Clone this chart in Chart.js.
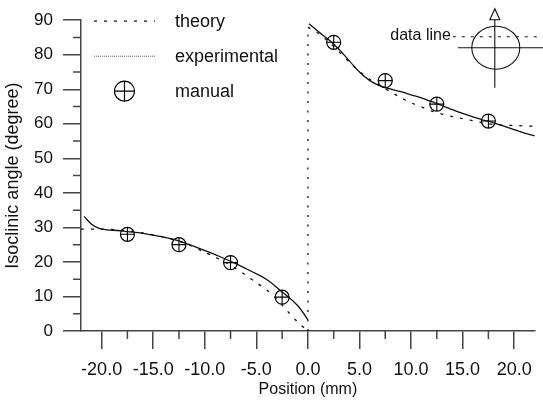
<!DOCTYPE html>
<html><head><meta charset="utf-8">
<script src="https://cdn.jsdelivr.net/npm/chart.js@4.4.1/dist/chart.umd.min.js"></script>
<style>html,body{margin:0;padding:0;background:#fff;overflow:hidden}#wrap{width:543px;height:404px}</style>
</head><body><div id="wrap"><canvas id="c"></canvas></div>
<script>
// ---- data ----
const legendLabels = ['theory', 'experimental', 'manual'];
const xTitle = 'Position (mm)';
const yTitle = 'Isoclinic angle (degree)';

const theoryLeftX = [-22, -20, -18, -16, -14, -12, -10, -9, -8, -7, -6, -5, -4, -3, -2, -1, 0];
const theoryLeftY = [29.5, 29.5, 29.2, 28.4, 27.2, 25.5, 22.8, 21.4, 19.9, 18.1, 16.1, 14.0, 11.9, 9.2, 5.8, 2.6, 0];
const theoryJumpX = [0, 0];
const theoryJumpY = [0, 88];
const theoryRightX = [0, 1, 2, 3, 4, 5, 6, 7, 8, 9, 10, 11, 12, 13, 14, 15, 16, 17, 18, 19, 20, 21, 22];
const theoryRightY = [88, 86.2, 83.8, 80.9, 77.9, 75.2, 72.9, 71.0, 69.3, 67.6, 66.1, 64.9, 63.7, 62.8, 62.1, 61.5, 60.9, 60.3, 59.8, 59.6, 59.5, 59.4, 59.3];

const expLeftX = [-21.7, -21, -20.3, -19.5, -18.5, -17.5, -16, -14.5, -13, -11.5, -10, -8.5, -7, -5.5, -4, -2.5, -1, 0];
const expLeftY = [33.2, 31.0, 29.8, 29.3, 29.1, 28.8, 28.3, 27.5, 26.5, 25.0, 23.3, 21.5, 19.5, 17.3, 14.9, 11.3, 7.4, 3.2];
const expRightX = [0.1, 1, 2, 3, 4, 5, 6, 7, 8, 9, 10, 11, 12, 13, 14, 15, 16, 17, 18, 19, 20, 21, 22];
const expRightY = [89, 86.7, 84.4, 81.6, 78.3, 75.0, 72.5, 71.0, 70.1, 69.3, 68.4, 67.5, 66.4, 65.3, 64.1, 63.0, 62.0, 61.1, 60.3, 59.3, 58.3, 57.3, 56.5];

const manualX = [-17.5, -12.5, -7.5, -2.5, 2.5, 7.5, 12.5, 17.5];
const manualY = [28, 25, 19.8, 9.8, 83.6, 72.5, 65.7, 60.8];

const xMinorTicks = [-17.5, -12.5, -7.5, -2.5, 2.5, 7.5, 12.5, 17.5];
const yMinorTicks = [5, 15, 25, 35, 45, 55, 65, 75, 85];

// ---- helpers ----
const pts = (xs, ys) => xs.map((x, i) => ({x: x, y: ys[i]}));
const INK = '#111';
const AXIS = '#444';
const FONT = "'Liberation Sans', Arial, Helvetica, sans-serif";

const minorTicks = {
  id: 'minorTicks',
  afterDraw(chart) {
    const {ctx, scales: {x, y}} = chart;
    ctx.save();
    ctx.strokeStyle = AXIS; ctx.lineWidth = 1.5;
    ctx.beginPath();
    xMinorTicks.forEach(v => {
      const px = x.getPixelForValue(v);
      ctx.moveTo(px, x.top); ctx.lineTo(px, x.top + 8);
    });
    yMinorTicks.forEach(v => {
      const py = y.getPixelForValue(v);
      ctx.moveTo(y.right - 8, py); ctx.lineTo(y.right, py);
    });
    ctx.stroke();
    ctx.restore();
  }
};

const customLegend = {
  id: 'customLegend',
  afterDraw(chart) {
    const ctx = chart.ctx;
    const ca = chart.chartArea;
    const x0 = ca.left + 13, x1 = ca.left + 74, tx = ca.left + 94;
    const rows = [ca.top + 1, ca.top + 36, ca.top + 71];
    ctx.save();
    ctx.strokeStyle = INK;
    ctx.lineWidth = 1.3; ctx.setLineDash([3, 7]);
    ctx.beginPath(); ctx.moveTo(x0, rows[0]); ctx.lineTo(x1, rows[0]); ctx.stroke();
    ctx.lineWidth = 1; ctx.strokeStyle = '#555'; ctx.setLineDash([1, 1]);
    ctx.beginPath(); ctx.moveTo(x0, rows[1]); ctx.lineTo(x1, rows[1]); ctx.stroke();
    ctx.setLineDash([]); ctx.strokeStyle = '#000'; ctx.lineWidth = 1.2;
    const cx = (x0 + x1) / 2, cy = rows[2], r = 10;
    ctx.beginPath(); ctx.arc(cx, cy, r, 0, Math.PI * 2); ctx.stroke();
    ctx.beginPath(); ctx.moveTo(cx - r, cy); ctx.lineTo(cx + r, cy); ctx.moveTo(cx, cy - r); ctx.lineTo(cx, cy + r); ctx.stroke();
    ctx.fillStyle = INK; ctx.font = '18px ' + FONT; ctx.textBaseline = 'middle'; ctx.textAlign = 'left';
    legendLabels.forEach((t, i) => ctx.fillText(t, tx, rows[i] + 1));
    ctx.restore();
  }
};

const inset = {
  id: 'inset',
  afterDraw(chart) {
    const ctx = chart.ctx;
    const ca = chart.chartArea;
    const cx = ca.right - 40, cy = ca.top + 27.5;
    ctx.save();
    ctx.strokeStyle = INK; ctx.lineWidth = 1.1;
    ctx.beginPath(); ctx.ellipse(cx + 1, cy, 24, 21.5, 0, 0, Math.PI * 2); ctx.stroke();
    ctx.beginPath(); ctx.moveTo(cx, cy - 28); ctx.lineTo(cx, cy + 40); ctx.stroke();
    ctx.beginPath(); ctx.moveTo(cx, cy - 39); ctx.lineTo(cx - 5, cy - 28); ctx.lineTo(cx + 5, cy - 28); ctx.closePath(); ctx.stroke();
    ctx.beginPath(); ctx.moveTo(cx - 37, cy); ctx.lineTo(chart.width, cy); ctx.stroke();
    ctx.setLineDash([3, 6]);
    ctx.beginPath(); ctx.moveTo(cx - 42, cy - 11); ctx.lineTo(chart.width, cy - 11); ctx.stroke();
    ctx.setLineDash([]);
    ctx.fillStyle = INK; ctx.font = '16px ' + FONT; ctx.textAlign = 'right'; ctx.textBaseline = 'middle';
    ctx.fillText('data line', cx - 44, cy - 12);
    ctx.restore();
  }
};

const lineDs = (data, opts) => Object.assign({
  data: data, showLine: true, pointRadius: 0, borderColor: INK, borderWidth: 1.3,
  fill: false, tension: 0.4
}, opts);

const markerDs = (style, opts) => Object.assign({
  label: legendLabels[2], data: pts(manualX, manualY), showLine: false,
  pointStyle: style, pointRadius: 7, pointHoverRadius: 7,
  pointBackgroundColor: 'rgba(0,0,0,0)', pointBorderColor: '#000',
  pointBorderWidth: 1.2, pointHoverBorderWidth: 1.2,
  backgroundColor: 'rgba(0,0,0,0)', borderColor: '#000'
}, opts);

new Chart(document.getElementById('c'), {
  type: 'scatter',
  data: {
    datasets: [
      lineDs(pts(theoryLeftX, theoryLeftY), {label: legendLabels[0], borderDash: [3, 7], tension: 0.3}),
      lineDs(pts(theoryJumpX, theoryJumpY), {label: legendLabels[0], borderDash: [2, 7.5], tension: 0}),
      lineDs(pts(theoryRightX, theoryRightY), {label: legendLabels[0], borderDash: [3, 7], tension: 0.3}),
      lineDs(pts(expLeftX, expLeftY), {label: legendLabels[1]}),
      lineDs(pts(expRightX, expRightY), {label: legendLabels[1]}),
      markerDs('circle', {}),
      markerDs('cross', {pointBorderWidth: 1.1})
    ]
  },
  options: {
    responsive: true, maintainAspectRatio: false, animation: false,
    events: [],
    layout: {padding: {top: 16, right: 2, bottom: 0, left: 0}},
    plugins: {legend: {display: false}, tooltip: {enabled: false}},
    scales: {
      x: {
        type: 'linear', min: -22, max: 22,
        afterFit(s) { s.height = 73; },
        border: {display: true, color: AXIS, width: 1.5},
        grid: {drawOnChartArea: false, drawTicks: true, tickLength: 18, color: AXIS, lineWidth: 1.5},
        ticks: {stepSize: 5, includeBounds: false, padding: 10, color: INK, maxRotation: 0,
                font: {family: FONT, size: 18}, callback: v => v.toFixed(1)},
        title: {display: true, text: xTitle, color: INK, font: {family: FONT, size: 16}, padding: {top: 0, bottom: 5}}
      },
      y: {
        type: 'linear', min: 0, max: 90,
        afterFit(s) { s.width = 81; },
        border: {display: true, color: AXIS, width: 1.5},
        grid: {drawOnChartArea: false, drawTicks: true, tickLength: 18, color: AXIS, lineWidth: 1.5},
        ticks: {stepSize: 10, padding: 10, color: INK, font: {family: FONT, size: 17}},
        title: {display: true, text: yTitle, color: INK, font: {family: FONT, size: 18}, padding: {top: 2, bottom: 0}}
      }
    }
  },
  plugins: [minorTicks, customLegend, inset]
});
</script></body></html>
